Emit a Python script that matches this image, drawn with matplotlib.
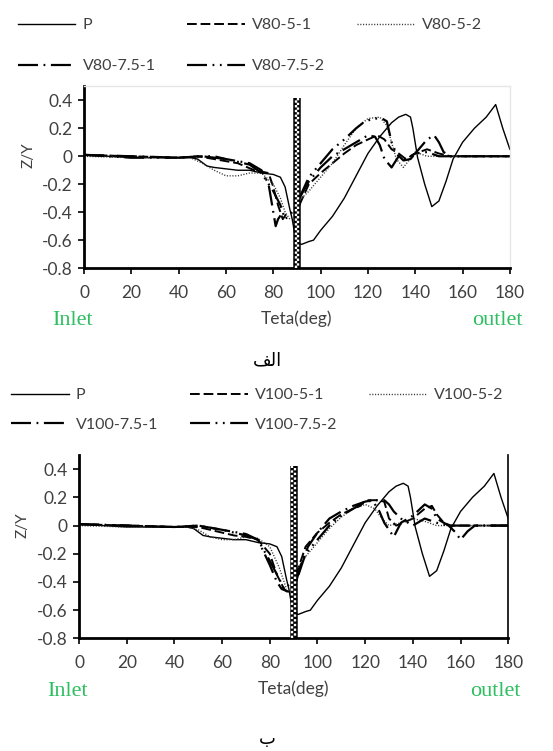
import matplotlib
matplotlib.use("Agg")
import matplotlib.pyplot as plt

plt.rcParams["axes.unicode_minus"] = False
plt.rcParams["font.family"] = ["Lato", "DejaVu Sans"]

# ---- data ----
# P, shared by both panels
p_x = [0, 10, 20, 30, 40, 45, 48, 52, 55, 60, 65, 70, 75, 80, 83, 85, 87, 88, 89, 90,
       92, 95, 97, 100, 105, 110, 115, 120, 125, 130, 133, 136, 138, 139, 141, 144,
       147, 150, 153, 156, 160, 165, 170, 174, 177, 180]
p_y = [0.01, 0.0, -0.01, -0.01, -0.01, -0.01, -0.02, -0.07, -0.08, -0.09, -0.1, -0.1,
       -0.12, -0.13, -0.15, -0.22, -0.38, -0.45, -0.55, -0.62, -0.63, -0.61, -0.6,
       -0.53, -0.43, -0.3, -0.14, 0.02, 0.14, 0.24, 0.28, 0.3, 0.28, 0.2, -0.01, -0.2,
       -0.36, -0.32, -0.18, -0.02, 0.1, 0.2, 0.28, 0.37, 0.2, 0.05]

# V80 cases (top panel)
v80_51_x = [0, 20, 40, 48, 55, 65, 72, 78, 80, 82, 84, 86, None, 91, 95, 100, 105, 110,
            115, 120, 124, 127, 130, 133, 136, 140, 145, 150, 155, 180]
v80_51_y = [0.01, 0.0, -0.01, 0.0, -0.02, -0.05, -0.1, -0.12, -0.22, -0.35, -0.45,
            -0.4, None, -0.35, -0.2, -0.12, -0.05, 0.02, 0.08, 0.12, 0.15, 0.12, 0.05,
            0.02, -0.02, 0.02, 0.05, 0.02, 0.0, 0.0]
v80_52_x = [0, 20, 45, 50, 55, 60, 65, 70, 75, 80, 83, 85, 87, None, 92, 95, 100, 105,
            110, 115, 120, 125, 128, 130, 132, 135, 140, 145, 150, 180]
v80_52_y = [0.0, -0.01, -0.01, -0.05, -0.1, -0.14, -0.14, -0.12, -0.12, -0.2, -0.3,
            -0.4, -0.45, None, -0.3, -0.25, -0.15, -0.05, 0.08, 0.2, 0.27, 0.28, 0.22,
            0.1, -0.02, -0.08, 0.03, 0.0, 0.0, 0.0]
v80_751_x = [0, 20, 40, 50, 55, 60, 70, 75, 78, 80, 81, 82, 84, None, 91, 95, 100, 105,
             110, 115, 120, 123, 125, 127, 130, 133, 136, 140, 145, 148, 150, 152, 155,
             180]
v80_751_y = [0.01, 0.0, -0.01, 0.0, 0.0, -0.02, -0.05, -0.1, -0.2, -0.4, -0.5, -0.45,
             -0.4, None, -0.3, -0.18, -0.08, 0.0, 0.05, 0.1, 0.15, 0.14, 0.08, -0.02,
             -0.08, 0.0, -0.02, 0.02, 0.12, 0.15, 0.1, 0.03, 0.0, 0.0]
v80_752_x = [0, 20, 40, 50, 60, 70, 75, 80, 83, 85, 88, None, 91, 95, 100, 105, 110,
             115, 118, 122, 126, 128, 130, 132, 135, 138, 140, 145, 150, 180]
v80_752_y = [0.01, -0.01, -0.01, 0.0, -0.02, -0.06, -0.12, -0.25, -0.35, -0.45, -0.4,
             None, -0.3, -0.15, -0.05, 0.05, 0.12, 0.2, 0.24, 0.27, 0.27, 0.25, 0.1,
             0.02, -0.03, -0.02, 0.02, 0.03, 0.0, 0.0]

# V100 cases (bottom panel)
v100_51_x = [0, 20, 40, 50, 55, 60, 65, 70, 75, 80, 83, 86, 88, None, 91, 93, 95, 100,
             105, 110, 115, 118, 120, 125, 128, 130, 133, 136, 140, 145, 148, 150, 153,
             156, 180]
v100_51_y = [0.01, 0.0, -0.01, -0.01, -0.03, -0.05, -0.07, -0.08, -0.1, -0.2, -0.35,
             -0.45, -0.48, None, -0.35, -0.25, -0.15, -0.05, 0.02, 0.08, 0.12, 0.14,
             0.18, 0.18, 0.17, 0.05, 0.0, 0.02, 0.05, 0.12, 0.14, 0.08, 0.02, 0.0, 0.0]
v100_52_x = [0, 20, 45, 50, 55, 60, 65, 70, 75, 80, 84, 87, None, 92, 95, 100, 105,
             110, 115, 120, 124, 127, 130, 135, 140, 145, 150, 180]
v100_52_y = [0.0, -0.01, -0.01, -0.03, -0.08, -0.1, -0.1, -0.08, -0.09, -0.15, -0.3,
             -0.45, None, -0.3, -0.22, -0.12, -0.02, 0.06, 0.12, 0.15, 0.12, 0.05, 0.0,
             0.02, 0.05, 0.03, 0.0, 0.0]
v100_751_x = [0, 20, 40, 50, 60, 70, 75, 80, 83, 85, 88, None, 91, 93, 96, 100, 105,
              110, 115, 120, 123, 126, 128, 130, 132, 135, 140, 145, 148, 150, 155, 158,
              160, 163, 166, 180]
v100_751_y = [0.01, 0.0, -0.01, 0.0, -0.03, -0.06, -0.1, -0.28, -0.4, -0.45, -0.47,
              None, -0.4, -0.28, -0.15, -0.05, 0.05, 0.1, 0.14, 0.17, 0.18, 0.1, 0.02,
              -0.03, -0.08, 0.02, 0.07, 0.15, 0.12, 0.05, 0.0, -0.05, -0.1, -0.04, 0.0,
              0.0]
v100_752_x = [0, 20, 40, 50, 60, 70, 75, 80, 84, 86, 88, None, 92, 95, 100, 105, 110,
              115, 120, 125, 128, 130, 132, 135, 138, 140, 145, 150, 155, 180]
v100_752_y = [0.01, 0.0, -0.01, 0.0, -0.03, -0.07, -0.1, -0.25, -0.38, -0.45, -0.42,
              None, -0.35, -0.2, -0.1, 0.0, 0.07, 0.12, 0.17, 0.18, 0.18, 0.15, 0.1,
              0.05, 0.02, 0.0, 0.05, 0.02, 0.0, 0.0]

x_ticks = [0, 20, 40, 60, 80, 100, 120, 140, 160, 180]
y_ticks = [0.4, 0.2, 0, -0.2, -0.4, -0.6, -0.8]
y_labels = ["0.4", "0.2", "0", "-0.2", "-0.4", "-0.6", "-0.8"]
wall_x = 90
wall_top = 0.42

styles = {
    "51": dict(dashes=(5, 2), lw=1.4),
    "52": dict(dashes=(0.8, 1.2), lw=1.0, color="#333333"),
    "751": dict(dashes=(9, 2.5, 0.8, 2.5), lw=1.6),
    "752": dict(dashes=(9, 2.5, 0.8, 2.5, 0.8, 2.5), lw=1.6),
}
suffix = {"51": "-5-1", "52": "-5-2", "751": "-7.5-1", "752": "-7.5-2"}
TXT = "#404040"
GREEN = "#2dbe60"


def fix(v):
    return [float("nan") if a is None else a for a in v]


def draw_panel(ax, series, name, light_frame):
    ax.plot(p_x, p_y, color="black", lw=1.0, label="P")
    for key, (xs, ys) in series.items():
        st = dict(color="black")
        st.update(styles[key])
        ax.plot(fix(xs), fix(ys), label=name + suffix[key], **st)

    # checkered wall at 90 deg
    ax.plot([wall_x, wall_x], [-0.8, wall_top], color="black", lw=5.4,
            solid_capstyle="butt", zorder=5)
    ax.plot([wall_x - 0.5, wall_x - 0.5], [-0.8, wall_top], color="white", lw=1.7,
            dashes=(1, 1), zorder=6)
    ax.plot([wall_x + 0.5, wall_x + 0.5], [-0.8, wall_top], color="white", lw=1.7,
            linestyle=(1, (1, 1)), zorder=6)

    ax.set_xlim(0, 180)
    ax.set_ylim(-0.8, 0.5)
    ax.set_xticks(x_ticks)
    ax.set_yticks(y_ticks)
    ax.set_yticklabels(y_labels)
    ax.tick_params(direction="out", length=4, width=1.2, colors="black",
                   labelcolor=TXT, labelsize=12.5)
    ax.tick_params(axis="x", pad=8)
    ax.tick_params(axis="y", pad=4)
    for s in ("left", "bottom"):
        ax.spines[s].set_linewidth(2.0)
    if light_frame:
        for s in ("top", "right"):
            ax.spines[s].set_color("#e6e6e6")
            ax.spines[s].set_linewidth(1.0)
    else:
        ax.spines["top"].set_visible(False)
        ax.spines["right"].set_linewidth(1.2)

    ax.set_ylabel("Z/Y", color=TXT, fontsize=11)
    ax.yaxis.set_label_coords(-0.115, 0.62)
    ax.set_xlabel("Teta(deg)", color=TXT, fontsize=12.5, labelpad=7)
    ax.text(-0.075, -0.29, "Inlet", transform=ax.transAxes, color=GREEN,
            fontsize=16, family="Liberation Serif", ha="left", va="center")
    ax.text(1.03, -0.29, "outlet", transform=ax.transAxes, color=GREEN,
            fontsize=16, family="Liberation Serif", ha="right", va="center")

    h, l = ax.get_legend_handles_labels()
    order = [0, 3, 1, 4, 2]
    return [h[i] for i in order], [l[i] for i in order]


fig = plt.figure(figsize=(5.53, 7.51), dpi=100)
ax1 = fig.add_axes([0.152, 0.643, 0.770, 0.242])
ax2 = fig.add_axes([0.143, 0.150, 0.776, 0.244])

top = {"51": (v80_51_x, v80_51_y), "52": (v80_52_x, v80_52_y),
       "751": (v80_751_x, v80_751_y), "752": (v80_752_x, v80_752_y)}
bot = {"51": (v100_51_x, v100_51_y), "52": (v100_52_x, v100_52_y),
       "751": (v100_751_x, v100_751_y), "752": (v100_752_x, v100_752_y)}

h1, l1 = draw_panel(ax1, top, "V80", True)
h2, l2 = draw_panel(ax2, bot, "V100", False)

# Arabic captions, glyphs in visual order (presentation forms)
fig.text(0.483, 1 - 360 / 751, "\uFED2\uFEDF\uFE8D", fontsize=13,
         family="DejaVu Sans", ha="center", va="center")
fig.text(0.483, 1 - 739 / 751, "\u0628", fontsize=13,
         family="DejaVu Sans", ha="center", va="center")

leg_kw = dict(ncol=3, frameon=False, handlelength=3.6, handletextpad=0.45,
              columnspacing=2.0, fontsize=11.5, labelcolor=TXT, borderaxespad=0.3)
fig.legend(h1, l1, loc="upper left", bbox_to_anchor=(0.012, 0.991),
           labelspacing=1.7, **leg_kw)
fig.legend(h2, l2, loc="upper left", bbox_to_anchor=(0.0, 0.498),
           labelspacing=0.95, **leg_kw)

fig.savefig("out.png", dpi=100)
